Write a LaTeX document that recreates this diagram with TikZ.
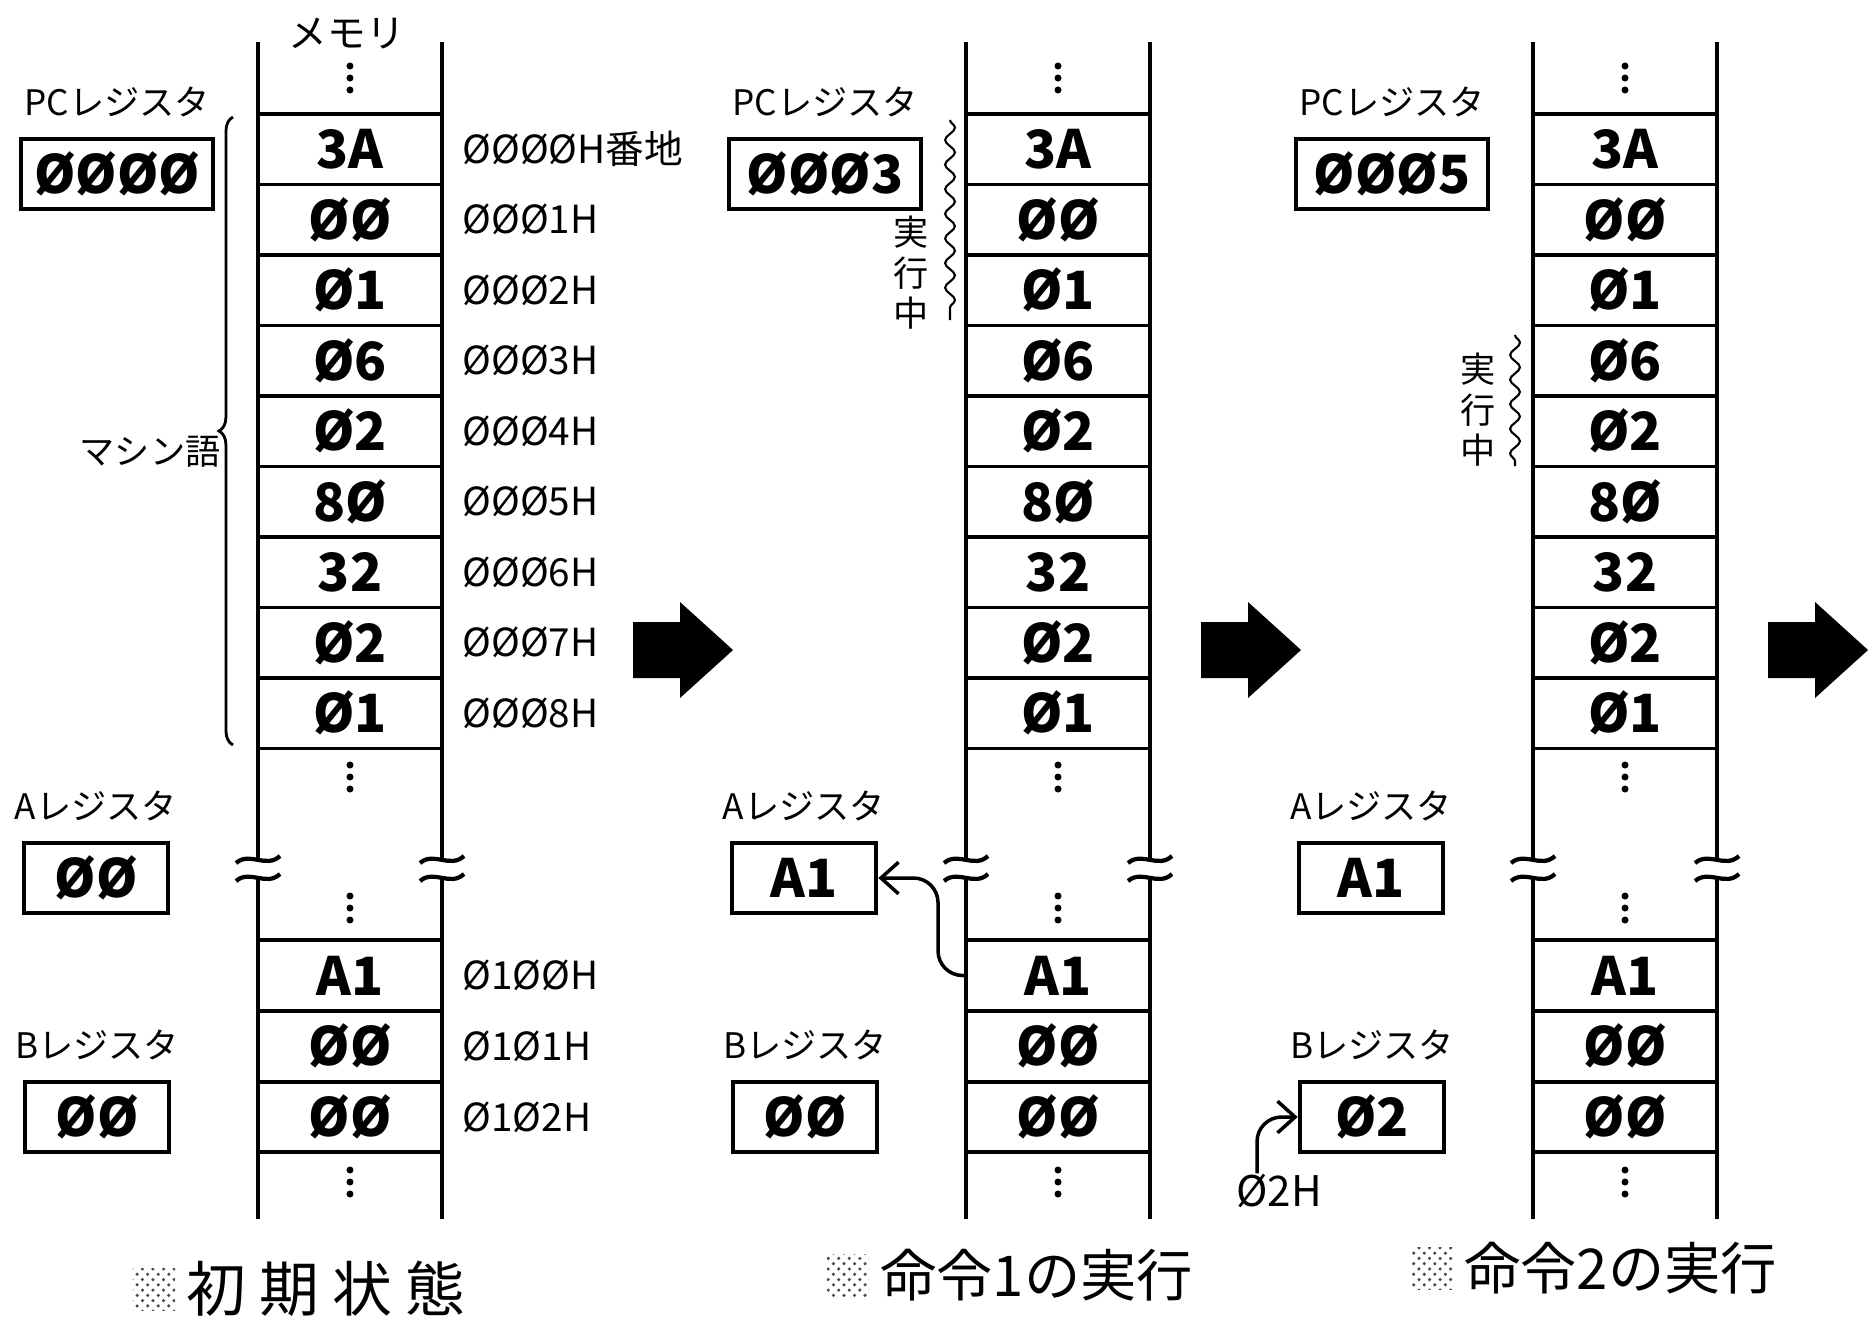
\documentclass[tikz,border=0pt]{standalone}
\usepackage{fontspec}
\setmainfont{Noto Sans CJK JP}
\usetikzlibrary{positioning,calc,arrows.meta,patterns,decorations.pathreplacing,decorations.pathmorphing}

\tikzset{
  memline/.style={line width=1.2pt},
  cell/.style={draw, line width=1.1pt, minimum width=1.84cm, minimum height=0.705cm,
    inner sep=0pt, font=\fontsize{15}{15}\selectfont\bfseries},
  reg/.style={draw, line width=1.3pt, minimum height=0.70cm, inner sep=0pt,
    font=\fontsize{15}{15}\selectfont\bfseries},
  lbl/.style={font=\fontsize{10}{10}\selectfont, inner sep=1pt},
  addr/.style={font=\fontsize{11}{11}\selectfont, inner sep=0pt},
  runlbl/.style={align=center, font=\fontsize{10}{11.5}\selectfont, inner sep=0pt},
  wavy/.style={line width=0.6pt, decorate,
    decoration={snake, amplitude=1.4pt, segment length=7pt}},
  fetch/.style={line width=1pt, rounded corners=7pt, -{Straight Barb[length=5pt,width=9pt]}},
  hatch/.style={pattern=crosshatch dots, pattern color=black!70, minimum size=0.42cm, inner sep=0pt},
  captxt/.style={font=\fontsize{16}{16}\selectfont, inner sep=0pt},
}

\begin{document}
\begin{tikzpicture}[x=0.01cm, y=-0.01cm]
  \useasboundingbox (0,0) rectangle (1874,1327);

  % three states: memory column and registers
  \foreach \p/\dx/\pcv/\av/\bv in {p1/0/ØØØØ/ØØ/ØØ, p2/708/ØØØ3/A1/ØØ, p3/1275/ØØØ5/A1/Ø2}{
    \begin{scope}[shift={(\dx,0)}]
      % column lines, broken in the middle
      \foreach \x in {258,442}{
        \draw[memline] (\x,42) -- (\x,859) (\x,877) -- (\x,1219);
        \draw[memline] (\x-22,863) .. controls (\x-8,851) and (\x+8,869) .. (\x+22,856);
        \draw[memline] (\x-22,881) .. controls (\x-8,869) and (\x+8,887) .. (\x+22,874);
      }
      \foreach \v [count=\i from 0] in {3A,ØØ,Ø1,Ø6,Ø2,8Ø,32,Ø2,Ø1}
        \node[cell] (\p-m\i) at (350,{149.25+70.5*\i}) {\v};
      \foreach \v [count=\i from 0] in {A1,ØØ,ØØ}
        \node[cell] (\p-n\i) at (350,{975.5+70.7*\i}) {\v};
      % skipped addresses
      \foreach \y in {78,777,908,1182}
        \foreach \k in {-12,0,12}
          \fill (350,\y+\k) circle[radius=1pt];
      % registers
      \node[reg, minimum width=1.92cm] (\p-pc) at (117,174) {\pcv};
      \node[reg, minimum width=1.44cm] (\p-areg) at (96,878) {\av};
      \node[reg, minimum width=1.44cm] (\p-breg) at (97,1117) {\bv};
      \node[lbl, above=0.15cm of \p-pc] (\p-pcl) {PCレジスタ};
      \node[lbl, above=0.15cm of \p-areg] (\p-al) {Aレジスタ};
      \node[lbl, above=0.15cm of \p-breg] (\p-bl) {Bレジスタ};
    \end{scope}
  }

  % initial state: addresses and program
  \node[lbl, font=\fontsize{11}{11}\selectfont] (mem) at (347,34) {メモリ};
  \foreach \a [count=\i from 0] in {ØØØØH番地,ØØØ1H,ØØØ2H,ØØØ3H,ØØØ4H,ØØØ5H,ØØØ6H,ØØØ7H,ØØØ8H}
    \node[addr, right=0.18cm of p1-m\i] (ad\i) {\a};
  \foreach \a [count=\i from 0] in {Ø1ØØH,Ø1Ø1H,Ø1Ø2H}
    \node[addr, right=0.18cm of p1-n\i] (bd\i) {\a};
  \draw[line width=0.8pt, decorate, decoration={brace, amplitude=4pt}] (233,745) -- (233,117);
  \node[lbl] (prog) at (150,452) {マシン語};

  % instruction 1
  \draw[wavy] (950,120) -- (950,320);
  \node[runlbl] (p2-run) at (911,273) {実\\行\\中};
  \draw[fetch] (p2-n0.west) -- ++(-26,0) |- (p2-areg.east);

  % instruction 2
  \draw[wavy] (1515,335) -- (1515,466);
  \node[runlbl] (p3-run) at (1478,410) {実\\行\\中};
  \node[addr, font=\fontsize{12}{12}\selectfont] (imm) at (1279,1191) {Ø2H};
  \draw[fetch] ($(imm.north)+(-22,0)$) |- (p3-breg.west);

  % big arrows
  \foreach \x in {633,1201,1768}
    \fill (\x,622) -- (\x+47,622) -- (\x+47,602) -- (\x+100,650)
      -- (\x+47,698) -- (\x+47,678) -- (\x,678) -- cycle;

  % captions
  \node[hatch] (sq1) at (154,1289) {};
  \node[captxt, font=\fontsize{17}{17}\selectfont, right=0.1cm of sq1] (cap1) {初 期 状 態};
  \node[hatch] (sq2) at (848,1275) {};
  \node[captxt, right=0.1cm of sq2] (cap2) {命令1の実行};
  \node[hatch] (sq3) at (1432,1268) {};
  \node[captxt, right=0.1cm of sq3] (cap3) {命令2の実行};
\end{tikzpicture}
\end{document}
